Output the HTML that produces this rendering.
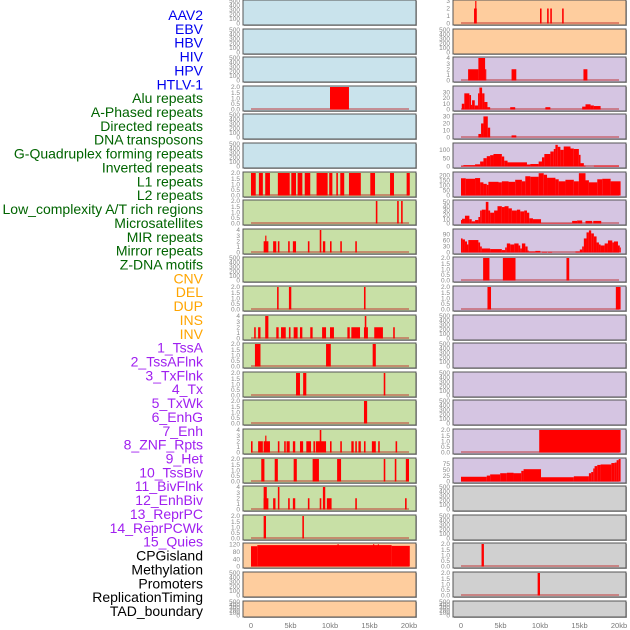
<!DOCTYPE html>
<html><head><meta charset="utf-8">
<style>
html,body{margin:0;padding:0;background:#fff;}
svg{display:block;font-family:"Liberation Sans",sans-serif;}
</style></head>
<body>
<svg id="chart" width="630" height="630" viewBox="0 0 630 630" xmlns="http://www.w3.org/2000/svg"></svg>
<script>
// ---- data ----
const trackLabels = ["AAV2","EBV","HBV","HIV","HPV","HTLV-1","Alu repeats","A-Phased repeats","Directed repeats","DNA transposons","G-Quadruplex forming repeats","Inverted repeats","L1 repeats","L2 repeats","Low_complexity A/T rich regions","Microsatellites","MIR repeats","Mirror repeats","Z-DNA motifs","CNV","DEL","DUP","INS","INV","1_TssA","2_TssAFlnk","3_TxFlnk","4_Tx","5_TxWk","6_EnhG","7_Enh","8_ZNF_Rpts","9_Het","10_TssBiv","11_BivFlnk","12_EnhBiv","13_ReprPC","14_ReprPCWk","15_Quies","CPGisland","Methylation","Promoters","ReplicationTiming","TAD_boundary"];
const labelGroups = [0,0,0,0,0,0,1,1,1,1,1,1,1,1,1,1,1,1,1,2,2,2,2,2,3,3,3,3,3,3,3,3,3,3,3,3,3,3,3,4,4,4,4,4];
const groupColors = ["#0000ee","#006400","#ffa500","#a020f0","#000000"];
const xTickValues = [0,5,10,15,20];
const xTickLabels = ["0","5kb","10kb","15kb","20kb"];

const leftBg = ["b","b","b","b","b","b","g","g","g","g","g","g","g","g","g","g","g","g","g","o","o","o"];
const rightBg = ["o","o","p","p","p","p","p","p","p","p","p","p","p","p","p","p","p","y","y","y","y","y"];
const bgColors = {b:"#c9e3ec",g:"#c8e0a6",o:"#fecd9e",p:"#d5c5e2",y:"#d0d0d0"};

const leftMax = [500,500,500,2,500,500,2,2,4,500,2,4,2,2,2,4,2,4,2,122,500,500];
const rightMax = [3,500,4,39,32,135,222,52,112,2,2,500,500,500,500,2,95,500,500,2,2,500];
const T500=["0","100","200","300","400","500"], T2=["0.0","0.5","1.0","1.5","2.0"], T4=["0","1","2","3","4"];
const leftTicks = [T500,T500,T500,T2,T500,T500,T2,T2,T4,T500,T2,T4,T2,T2,T2,T4,T2,T4,T2,["0","40","80","120"],T500,T500];
const rightTicks = [["0","1","2","3"],T500,T4,["0","10","20","30"],["0","10","20","30"],["0","50","100"],["0","50","100","150","200"],["0","10","20","30","40","50"],["0","30","60","90"],T2,T2,T500,T500,T500,T500,T2,["0","25","50","75"],T500,T500,T2,T2,T500];

const leftSegs = [
 [],[],[],
 [[10.0,12.4,2]],
 [],[],
 [[0,0.6,2],[1.0,1.5,2],[1.8,2.4,2],[3.4,4.9,2],[5.1,5.7,2],[5.9,6.5,2],[6.8,7.5,2],[8.3,9.7,2],[9.9,10.3,2],[10.8,11.0,2],[11.3,11.8,2],[12.4,13.9,2],[15.1,15.7,2],[17.6,18.1,2],[19.7,20.1,2]],
 [[15.8,16.0,2],[18.5,18.7,2],[19.0,19.2,2]],
 [[1.6,2.2,2],[1.8,1.95,3],[2.8,3.2,2],[3.4,3.6,2],[4.7,4.9,2],[5.3,5.7,2],[7.2,7.4,2],[8.7,8.9,4],[9.1,9.4,2],[10.0,10.2,2],[11.3,11.5,2],[13.2,13.4,2]],
 [],
 [[3.3,3.5,2],[4.8,5.1,2],[14.3,14.5,2]],
 [[0.4,0.6,2],[0.9,1.2,2],[1.8,2.2,4],[3.2,3.5,2],[3.8,4.4,2],[4.8,5.0,2],[5.4,5.9,2],[6.2,6.5,2],[7.5,7.8,2],[9.0,9.5,2],[10.0,10.5,2],[12.2,12.5,2],[12.7,13.8,2],[14.3,14.8,2],[14.4,14.6,4],[15.6,16.7,2],[18.0,18.2,2]],
 [[0.5,1.2,2],[9.5,10.1,2],[15.4,15.8,2]],
 [[5.7,6.2,2],[6.6,7.0,2],[16.8,17.0,2]],
 [[14.3,14.7,2]],
 [[0,0.2,2],[0.9,1.5,2],[1.6,2.4,2],[1.8,1.95,3],[3.4,3.6,2],[4.2,4.4,2],[4.5,4.9,2],[5.3,5.6,2],[6.2,6.6,2],[7.0,7.6,2],[7.9,8.1,2],[8.2,9.5,2],[8.7,8.9,4],[10.0,10.2,2],[11.3,11.5,2],[12.7,13.0,2],[13.2,13.4,2],[13.6,13.9,2],[14.3,14.5,2],[15.3,15.8,2],[16.1,16.3,2],[18.3,18.5,2]],
 [[1.3,1.7,2],[3.0,3.4,2],[5.4,5.8,2],[7.8,8.6,2],[10.9,11.4,2],[16.8,17.0,2],[18.2,18.4,2],[19.6,20.0,2]],
 [[1.6,2.2,2],[1.6,2.0,4],[2.8,3.1,2],[3.4,3.6,4],[4.7,4.9,2],[5.3,5.6,2],[7.2,7.4,2],[8.7,8.9,2],[9.1,9.4,4],[9.6,10.2,2],[13.2,13.4,2],[19.5,19.7,2]],
 [[1.6,1.9,2],[6.5,6.7,2]],
 [[0,0.8,110],[0.8,17.8,116],[17.8,20.1,112],[10.95,11.1,121],[15.45,15.6,121],[16.05,16.2,120]],
 [],[]
];
const rightSegs = [
 [[1.65,2.0,2],[1.8,1.95,3],[10.0,10.2,2],[10.9,11.1,2],[11.3,11.5,2],[12.8,13.0,2]],
 [],
 [[0.9,2.2,2],[2.2,3.05,4],[3.05,3.2,2],[6.4,7.0,2],[15.5,16.0,2]],
 [[0.1,0.42,10],[0.42,1.06,28],[1.06,1.27,25],[1.27,1.4,8],[1.4,1.74,16],[1.74,2.16,7],[2.16,2.33,28],[2.33,2.67,38],[2.67,2.97,28],[2.97,3.35,13],[3.35,3.69,4],[6.23,6.86,4],[10.68,11.31,4],[15.34,15.76,5],[15.76,16.4,9],[16.4,16.82,7],[16.82,17.67,6]],
 [[2.2,2.54,5],[2.54,2.84,20],[2.84,3.39,30],[3.39,3.69,14],[6.4,7.0,3]],
 [[0,0.3,3],[0.3,1.78,8],[1.78,2.42,13],[2.42,2.84,30],[2.84,3.26,50],[3.26,3.69,62],[3.69,4.11,68],[4.11,5.17,75],[5.17,5.47,60],[5.47,5.89,35],[5.89,8.35,25],[8.35,8.77,12],[8.77,9.83,15],[9.83,10.25,30],[10.25,10.55,55],[10.55,11.31,75],[11.31,11.74,90],[11.74,11.95,105],[11.95,12.25,130],[12.25,12.58,118],[12.58,13.0,100],[13.0,13.86,120],[13.86,14.28,108],[14.28,14.92,105],[14.92,15.13,70],[15.13,15.55,20],[15.55,15.76,5],[16.82,20.0,5]],
 [[0,0.6,170],[0.6,1.78,165],[1.78,2.42,172],[2.42,2.84,130],[2.84,3.26,115],[3.26,3.47,105],[3.47,4.75,135],[4.75,5.17,130],[5.17,6.02,140],[6.02,6.86,135],[6.86,7.71,155],[7.71,8.14,140],[8.14,8.77,190],[8.77,9.83,185],[9.83,10.47,220],[10.47,10.89,205],[10.89,11.95,175],[11.95,12.37,160],[12.37,13.22,140],[13.22,14.28,155],[14.28,14.92,140],[14.92,15.76,220],[15.76,16.19,150],[16.19,17.25,130],[17.25,17.88,160],[17.88,18.94,165],[18.94,20.2,140]],
 [[0,0.13,8],[0.13,0.5,11],[0.5,1.06,18],[1.06,1.36,10],[1.36,1.78,5],[1.78,2.2,8],[2.2,2.42,15],[2.42,2.63,30],[2.63,3.14,32],[3.14,3.47,50],[3.47,3.69,30],[3.69,4.19,25],[4.19,4.62,30],[4.62,5.17,40],[5.17,5.51,38],[5.51,6.02,40],[6.02,6.44,35],[6.44,7.08,30],[7.08,7.5,32],[7.5,8.0,28],[8.0,8.35,30],[8.35,8.64,25],[8.64,9.11,12],[9.11,10.13,10],[10.13,14.07,1],[14.07,14.7,6],[14.7,15.34,7],[15.76,16.61,6],[16.74,17.75,6]],
 [[0,0.2,70],[0.2,0.5,65],[0.5,0.76,55],[0.76,0.93,40],[0.93,2.2,62],[2.2,2.42,50],[2.42,2.63,30],[2.63,3.69,20],[3.69,5.17,17],[5.17,5.59,12],[5.59,5.8,25],[5.8,6.23,45],[6.23,6.74,40],[6.74,7.29,45],[7.29,7.5,35],[7.5,7.71,20],[7.71,8.14,45],[8.14,8.43,30],[8.43,8.56,10],[8.56,9.41,5],[9.41,10.04,8],[10.25,10.89,3],[11.02,11.53,3],[14.49,15.04,5],[15.04,15.34,15],[15.34,15.55,30],[15.55,15.89,70],[15.89,16.19,100],[16.19,16.48,110],[16.48,16.82,95],[16.82,17.16,80],[17.16,17.46,50],[17.46,17.67,40],[17.67,18.18,35],[18.18,18.6,45],[18.6,19.15,60],[19.15,19.36,50],[19.36,19.87,55],[19.87,20.1,35],[20.1,20.2,25]],
 [[2.8,3.6,2],[5.3,6.9,2],[13.35,13.7,2]],
 [[3.35,3.8,2],[19.6,20.2,2]],
 [],[],[],[],
 [[9.9,20.2,2]],
 [[0,3.26,20],[3.26,3.69,25],[3.69,4.96,30],[4.96,5.8,35],[5.8,6.65,37],[6.65,7.63,35],[7.63,7.92,45],[7.92,10.13,52],[10.13,14.28,18],[14.28,16.19,22],[16.19,16.48,35],[16.48,16.74,40],[16.74,16.91,55],[16.91,17.25,65],[17.25,17.67,70],[17.67,19.03,72],[19.03,19.45,78],[19.45,19.7,80],[19.7,19.96,90],[19.96,20.2,95]],
 [],[],
 [[2.6,2.9,2]],
 [[9.7,10.0,2]],
 []
];

// ---- layout ----
const NS="http://www.w3.org/2000/svg";
const svg=document.getElementById("chart");
function mk(tag,attrs,parent){const e=document.createElementNS(NS,tag);for(const k in attrs)e.setAttribute(k,attrs[k]);(parent||svg).appendChild(e);return e;}
const cols=[{px:243,pw:173,x0:251,x1:409,bg:leftBg,max:leftMax,ticks:leftTicks,segs:leftSegs,name:"left"},
            {px:453,pw:173,x0:461,x1:619,bg:rightBg,max:rightMax,ticks:rightTicks,segs:rightSegs,name:"right"}];
const rowTop=i=>Math.round(i*28.6);
const rowH=i=>i===21?16:25;

// labels
trackLabels.forEach((t,i)=>{
  const e=mk("text",{x:203,y:15+i*13.86+5,"text-anchor":"end","font-size":"14",fill:groupColors[labelGroups[i]]});
  e.textContent=t;
  
  
});

cols.forEach(c=>{
  const xs=kb=>c.x0+(c.x1-c.x0)*kb/20;
  for(let i=0;i<22;i++){
    const top=rowTop(i),h=rowH(i);
    const g=mk("g",{});
    
    
    mk("rect",{x:c.px+1,y:top+1,width:c.pw,height:h,fill:"#aaa"},g);
    mk("rect",{x:c.px,y:top,width:c.pw,height:h,fill:bgColors[c.bg[i]],stroke:"#555","stroke-width":1},g);
    const y0=top+h-1.5,yT=top+1,mx=c.max[i];
    const ys=v=>y0-(y0-yT)*v/mx;
    // y ticks
    const tl=c.ticks[i];
    tl.forEach(s=>{
      const v=parseFloat(s);
      const t=mk("text",{x:c.px-3,y:ys(v)+2.2,"text-anchor":"end","font-size":"6.5",fill:"#888"},g);
      t.textContent=s;
      
      
    });
    const segs=c.segs[i];
    if(segs.length){
      const base=mk("line",{x1:xs(0),x2:xs(20),y1:y0-0.5,y2:y0-0.5,stroke:"rgba(190,40,40,0.6)","stroke-width":1.5},g);
      
      
    }
    segs.forEach(s=>{
      const x=xs(s[0]),w=Math.max(1,xs(s[1])-xs(s[0])),y=ys(s[2]);
      const r=mk("rect",{x:x,y:y,width:w,height:y0-y,fill:"#ff0000"},g);
      
      
    });
  }
  xTickValues.forEach((v,j)=>{
    const t=mk("text",{x:xs(v),y:628,"text-anchor":"middle","font-size":"7.5",fill:"#777"});
    t.textContent=xTickLabels[j];
    
    
  });
});
</script>
</body></html>
